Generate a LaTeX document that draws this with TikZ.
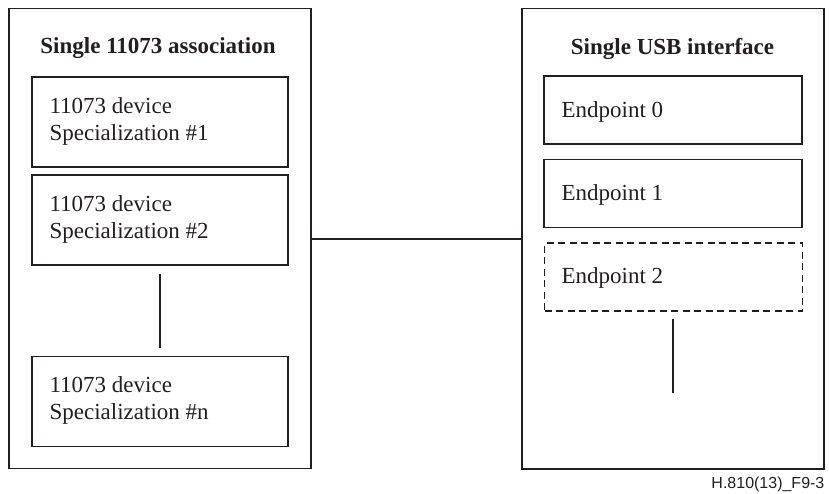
\documentclass[tikz,border=0pt]{standalone}
\usepackage{fontspec}
\setmainfont{Liberation Serif}
\newfontfamily\labelfont{Liberation Sans}
\usetikzlibrary{calc}
\definecolor{ink}{RGB}{35,31,32}
\begin{document}
\begin{tikzpicture}[x=1pt,y=-1pt,
  line width=1.2pt, draw=ink, text=ink,
  outerbox/.style={draw, rectangle, inner sep=0pt},
  innerbox/.style={draw, rectangle, inner sep=0pt, minimum width=256pt, minimum height=90pt},
  epbox/.style={draw, rectangle, inner sep=0pt, minimum width=258pt, minimum height=68pt},
  boxtext/.style={anchor=base west, inner sep=0pt, font=\fontsize{23}{27}\selectfont, align=left},
  titletext/.style={anchor=base, inner sep=0pt, font=\fontsize{23}{27}\selectfont\bfseries},
  dashedbox/.style={dash pattern=on 7pt off 4.5pt}
]
\useasboundingbox (0,0) rectangle (829,493);

% outer boxes
\node[outerbox, minimum width=302pt, minimum height=460pt] (L) at (160,238.5) {};
\node[outerbox, minimum width=302pt, minimum height=460.5pt] (R) at (673,238.75) {};

% titles
\node[titletext] (tL) at (158,53) {Single 11073 association};
\node[titletext] (tR) at (672.5,54) {Single USB interface};

% left inner boxes
\node[innerbox] (b1) at (160,122) {};
\node[innerbox] (b2) at (160,220) {};
\node[innerbox] (b3) at (160,401.5) {};
\node[boxtext] (t1a) at (49,113) {11073 device};
\node[boxtext] (t1b) at (49,140) {Specialization \#1};
\node[boxtext] (t2a) at (49,211) {11073 device};
\node[boxtext] (t2b) at (49,238) {Specialization \#2};
\node[boxtext] (t3a) at (49,392.5) {11073 device};
\node[boxtext] (t3b) at (49,419.5) {Specialization \#n};

% right inner boxes
\node[epbox] (e0) at (673,110) {};
\node[epbox] (e1) at (673,193.5) {};
\node[epbox, dashedbox] (e2) at (673.5,277) {};
\node[boxtext] (te0) at (561,117) {Endpoint 0};
\node[boxtext] (te1) at (561,200) {Endpoint 1};
\node[boxtext] (te2) at (561,283.5) {Endpoint 2};

% connectors
\draw (L.east |- 0,239) -- (R.west |- 0,239);
\draw ($(b2.south)+(0,8)$) -- ($(b3.north)+(0,-8)$);
\coordinate (eEnd) at (673,393);
\draw ($(e2.south)+(-0.5,7)$) -- (eEnd);

% figure label
\node[anchor=base east, inner sep=0pt, font=\labelfont\fontsize{16}{19}\selectfont] (fig) at (825,488) {H.810(13)\_F9-3};
\end{tikzpicture}
\end{document}
